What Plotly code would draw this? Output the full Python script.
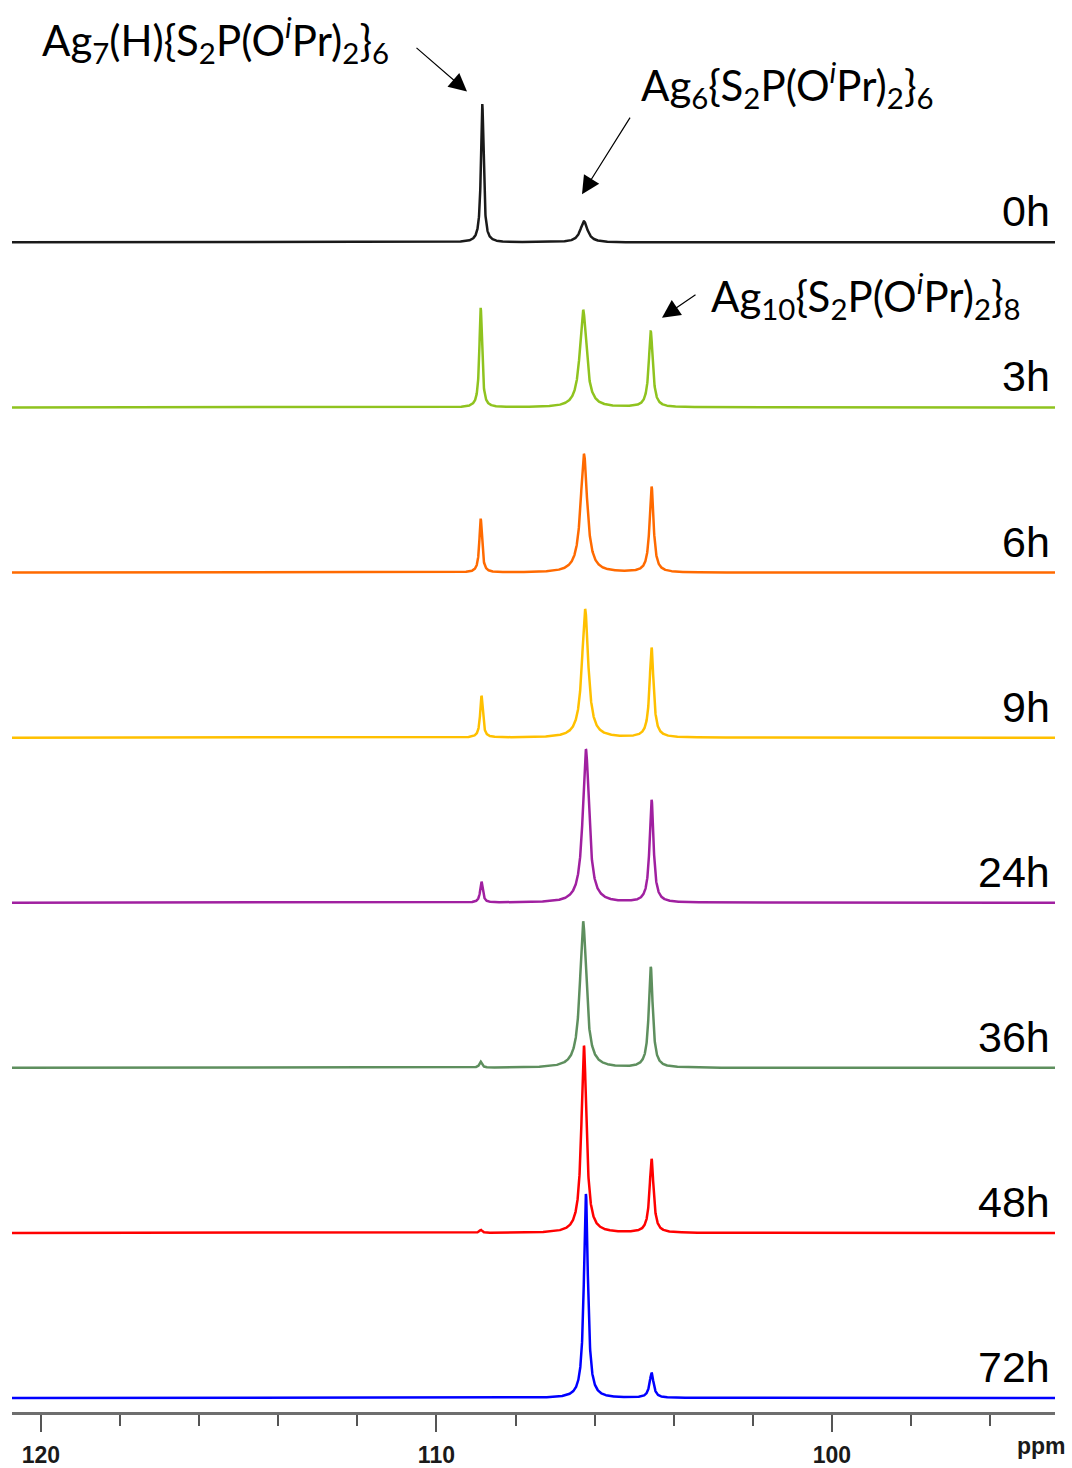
import numpy as np
import plotly.graph_objects as go

# ---------------- data ----------------
time_labels = ["0h", "3h", "6h", "9h", "24h", "36h", "48h", "72h"]
line_colors = ["#1a1a1a", "#8fc31f", "#ff6a00", "#ffc000", "#a020a0", "#5e8f5e", "#ff0000", "#0000ff"]

# peak positions (ppm) for each spectrum
pos_ag7 = [108.84, 108.88, 108.88, 108.86, 108.86, 108.88, 108.88, 108.88]
pos_ag6 = [106.27, 106.29, 106.27, 106.24, 106.22, 106.29, 106.27, 106.22]
pos_ag10 = [104.58, 104.58, 104.56, 104.56, 104.56, 104.58, 104.56, 104.56]

# peak heights (intensity, arbitrary units)
h_ag7 = [139, 100, 54, 42, 21, 6, 3, 0]
h_ag6 = [21, 98, 119, 129, 154, 147, 188, 205]
h_ag10 = [0, 76, 86, 90, 103, 101, 74, 25]

# peak full widths at half height (ppm)
fw_ag7 = [0.08, 0.08, 0.08, 0.08, 0.08, 0.08, 0.08, 0.08]
fw_ag6 = [0.22, 0.20, 0.20, 0.19, 0.19, 0.19, 0.15, 0.12]
fw_ag10 = [0.12, 0.12, 0.12, 0.12, 0.12, 0.12, 0.12, 0.12]

tick_values = [120, 110, 100]
minor_tick_values = [118, 116, 114, 112, 108, 106, 104, 102, 98, 96]

# ---------------- layout constants ----------------
X_LEFT, X_RIGHT = 120.73, 94.36
FIG_W, FIG_H = 1072, 1468
M_L, M_R, M_T, M_B = 12, 17, 0, 50
PLOT_W = FIG_W - M_L - M_R
PLOT_H = FIG_H - M_T - M_B
BASE0 = 14.0       # vertical offset of the lowest spectrum
STEP = 165.8       # vertical offset between stacked spectra

ppm = np.linspace(X_LEFT, X_RIGHT, 7000)


def lorentz(x, x0, h, fw):
    g = fw / 2.0
    return h * g * g / ((x - x0) ** 2 + g * g)


def px_to_ppm(px):
    return X_LEFT - (px - M_L) / PLOT_W * (X_LEFT - X_RIGHT)


def py_to_y(py):
    return (M_T + PLOT_H) - py


n = len(time_labels)
offsets = [BASE0 + STEP * (n - 1 - i) for i in range(n)]

fig = go.Figure()
for i, lab in enumerate(time_labels):
    y = (lorentz(ppm, pos_ag7[i], h_ag7[i], fw_ag7[i])
         + lorentz(ppm, pos_ag6[i], h_ag6[i], fw_ag6[i])
         + lorentz(ppm, pos_ag10[i], h_ag10[i], fw_ag10[i]))
    fig.add_trace(go.Scatter(x=ppm, y=offsets[i] + y, mode="lines",
                             line=dict(color=line_colors[i], width=2.5),
                             showlegend=False, hoverinfo="skip"))

annotations = []
# time labels at the right
for i, lab in enumerate(time_labels):
    annotations.append(dict(
        x=1, xref="paper", y=offsets[i] + 5, yref="y",
        xanchor="right", yanchor="bottom", xshift=-3,
        text=lab, showarrow=False,
        font=dict(family="Liberation Sans, Arial", size=43, color="#000000")))

label_font = dict(family="Lato, Open Sans", size=42, color="#000000")
sup_i = "<sup><i>i</i></sup>"
annotations += [
    dict(x=px_to_ppm(40), y=py_to_y(40), xref="x", yref="y", xanchor="left", yanchor="middle",
         text="Ag<sub>7</sub>(H){S<sub>2</sub>P(O" + sup_i + "Pr)<sub>2</sub>}<sub>6</sub>",
         showarrow=False, font=label_font),
    dict(x=px_to_ppm(639), y=py_to_y(85), xref="x", yref="y", xanchor="left", yanchor="middle",
         text="Ag<sub>6</sub>{S<sub>2</sub>P(O" + sup_i + "Pr)<sub>2</sub>}<sub>6</sub>",
         showarrow=False, font=label_font),
    dict(x=px_to_ppm(709), y=py_to_y(297), xref="x", yref="y", xanchor="left", yanchor="middle",
         text="Ag<sub>10</sub>{S<sub>2</sub>P(O" + sup_i + "Pr)<sub>2</sub>}<sub>8</sub>",
         showarrow=False, font=label_font),
]

arrow_style = dict(showarrow=True, arrowhead=2, arrowsize=3.0, arrowwidth=1.2,
                   arrowcolor="#000000", text="", xref="x", yref="y", standoff=0)
annotations += [
    dict(x=px_to_ppm(467), y=py_to_y(92), ax=415 - 467, ay=47 - 92, **arrow_style),
    dict(x=px_to_ppm(582), y=py_to_y(195), ax=631 - 582, ay=117 - 195, **arrow_style),
    dict(x=px_to_ppm(662), y=py_to_y(319), ax=697 - 662, ay=295 - 319, **arrow_style),
]

annotations.append(dict(
    x=(1041 - M_L) / PLOT_W, y=(FIG_H - M_B - 1452) / PLOT_H, xref="paper", yref="paper",
    text="ppm", showarrow=False, xanchor="center", yanchor="middle",
    font=dict(family="Liberation Sans, Arial", size=23, color="#1a1a1a", weight="bold")))

fig.update_layout(
    width=FIG_W, height=FIG_H,
    margin=dict(l=M_L, r=M_R, t=M_T, b=M_B),
    paper_bgcolor="white", plot_bgcolor="white",
    annotations=annotations,
    xaxis=dict(range=[X_LEFT, X_RIGHT], showgrid=False, zeroline=False,
               showline=True, linecolor="#6e6e6e", linewidth=3,
               ticks="outside", tickvals=tick_values, ticklen=17, tickwidth=2, tickcolor="#555555",
               ticklabelstandoff=3,
               tickfont=dict(family="Liberation Sans, Arial", size=23, color="#1a1a1a", weight="bold"),
               minor=dict(tickvals=minor_tick_values, ticks="outside", ticklen=11,
                          tickwidth=2, tickcolor="#555555", showgrid=False)),
    yaxis=dict(range=[0, PLOT_H], visible=False, fixedrange=True),
)

fig.write_html("out.html")
